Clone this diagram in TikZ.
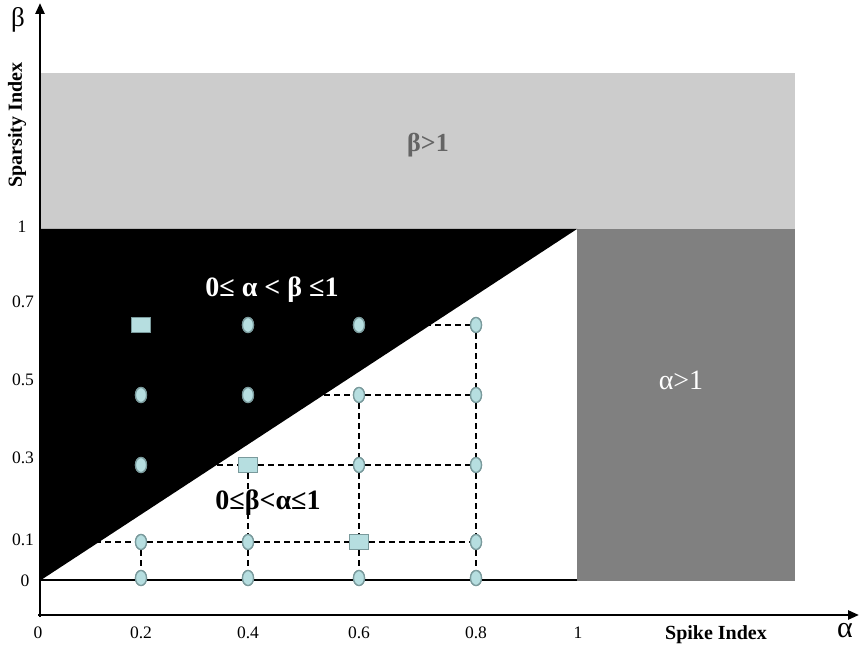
\documentclass[tikz,border=0pt]{standalone}
\usepackage{fontspec}
\setmainfont{Liberation Serif}
\usetikzlibrary{arrows.meta,shapes.geometric}
\definecolor{lgray}{RGB}{204,204,204}
\definecolor{dgray}{RGB}{128,128,128}
\definecolor{tgray}{RGB}{100,100,100}
\definecolor{mfill}{RGB}{182,222,224}
\definecolor{mdraw}{RGB}{122,154,156}
\newcommand{\fs}[1]{\fontsize{#1}{#1}\selectfont}
\begin{document}
\begin{tikzpicture}[x=1pt,y=-1pt,
  dotm/.style={ellipse,minimum width=11pt,minimum height=15pt,inner sep=0pt,fill=mfill,draw=mdraw,line width=1.3pt},
  sqm/.style={rectangle,minimum width=19pt,minimum height=15pt,inner sep=0pt,fill=mfill,draw=mdraw,line width=1.3pt},
  ticklab/.style={font=\fs{17.5}},
  grid/.style={dashed,dash pattern=on 6pt off 4pt,line width=1.2pt},
  axis/.style={line width=2.5pt,-{Triangle[length=11pt,width=9pt]}}]
\useasboundingbox (0,0) rectangle (860,652);
% regions
\fill[lgray] (41,73) rectangle (795,229);
\fill[dgray] (577,229) rectangle (795,581);
\fill[black] (41,580) -- (41,229) -- (577,229) -- cycle;
% baseline
\coordinate (b0) at (40,580);
\coordinate (b1) at (577,580);
\draw[line width=2pt] (b0) -- (b1);
% markers
\foreach \c/\x in {2/141,4/248,6/359,8/476}{
  \node[dotm] (p\c0) at (\x,578) {};
}
\node[sqm]  (p27) at (141,325) {};
\node[dotm] (p25) at (141,395) {};
\node[dotm] (p23) at (141,465) {};
\node[dotm] (p21) at (141,542) {};
\node[dotm] (p47) at (248,325) {};
\node[dotm] (p45) at (248,395) {};
\node[sqm]  (p43) at (248,465) {};
\node[dotm] (p41) at (248,542) {};
\node[dotm] (p67) at (359,325) {};
\node[dotm] (p65) at (359,395) {};
\node[dotm] (p63) at (359,465) {};
\node[sqm]  (p61) at (359,542) {};
\node[dotm] (p87) at (476,325) {};
\node[dotm] (p85) at (476,395) {};
\node[dotm] (p83) at (476,465) {};
\node[dotm] (p81) at (476,542) {};
\coordinate (l1) at (95,542);
% dashed grid (hidden where it crosses the black region)
\draw[grid] (l1) -- (p21) -- (p41) -- (p61) -- (p81);
\draw[grid] (p23) -- (p43) -- (p63) -- (p83);
\draw[grid] (p25) -- (p45) -- (p65) -- (p85);
\draw[grid] (p67) -- (p87);
\draw[grid] (p21) -- (p20);
\draw[grid] (p43) -- (p41) -- (p40);
\draw[grid] (p65) -- (p63) -- (p61) -- (p60);
\draw[grid] (p87) -- (p85) -- (p83) -- (p81) -- (p80);
% redraw markers on top
\foreach \n in {20,40,60,80,25,23,21,47,45,41,67,65,63,87,85,83,81}{
  \node[dotm] at (p\n) {};
}
\foreach \n in {27,43,61}{
  \node[sqm] at (p\n) {};
}
% axes
\coordinate (o) at (40,617);
\coordinate (ytop) at (40,3);
\coordinate (ox) at (38,615);
\coordinate (xend) at (859,615);
\draw[axis] (o) -- (ytop);
\draw[axis] (ox) -- (xend);
% tick labels
\node[ticklab] (y1) at (22,227) {1};
\node[ticklab] (y7) at (23,302) {0.7};
\node[ticklab] (y5) at (23,380) {0.5};
\node[ticklab] (y3) at (23,458) {0.3};
\node[ticklab] (y0) at (23,540) {0.1};
\node[ticklab] (yz) at (25,581) {0};
\node[ticklab] (x0) at (38,633) {0};
\node[ticklab] (x2) at (141,633) {0.2};
\node[ticklab] (x4) at (248,633) {0.4};
\node[ticklab] (x6) at (359,633) {0.6};
\node[ticklab] (x8) at (476,633) {0.8};
\node[ticklab] (x1) at (578,633) {1};
% axis titles
\node[font=\fs{27}] (beta) at (18,20) {β};
\node[font=\fs{30}] (alpha) at (845,631) {α};
\node[font=\bfseries\fs{20},rotate=90] (sp) at (17,125) {Sparsity Index};
\node[font=\bfseries\fs{20}] (sk) at (716,635) {Spike Index};
% region labels
\node[font=\bfseries\fs{26},text=tgray] (r1) at (428,145) {β>1};
\node[font=\fs{28},text=white] (r2) at (681,380) {α>1};
\node[font=\bfseries\fs{28},text=white] (r3) at (272,290) {0≤ α < β ≤1};
\node[font=\bfseries\fs{28}] (r4) at (268,503) {0≤β<α≤1};
\end{tikzpicture}
\end{document}
